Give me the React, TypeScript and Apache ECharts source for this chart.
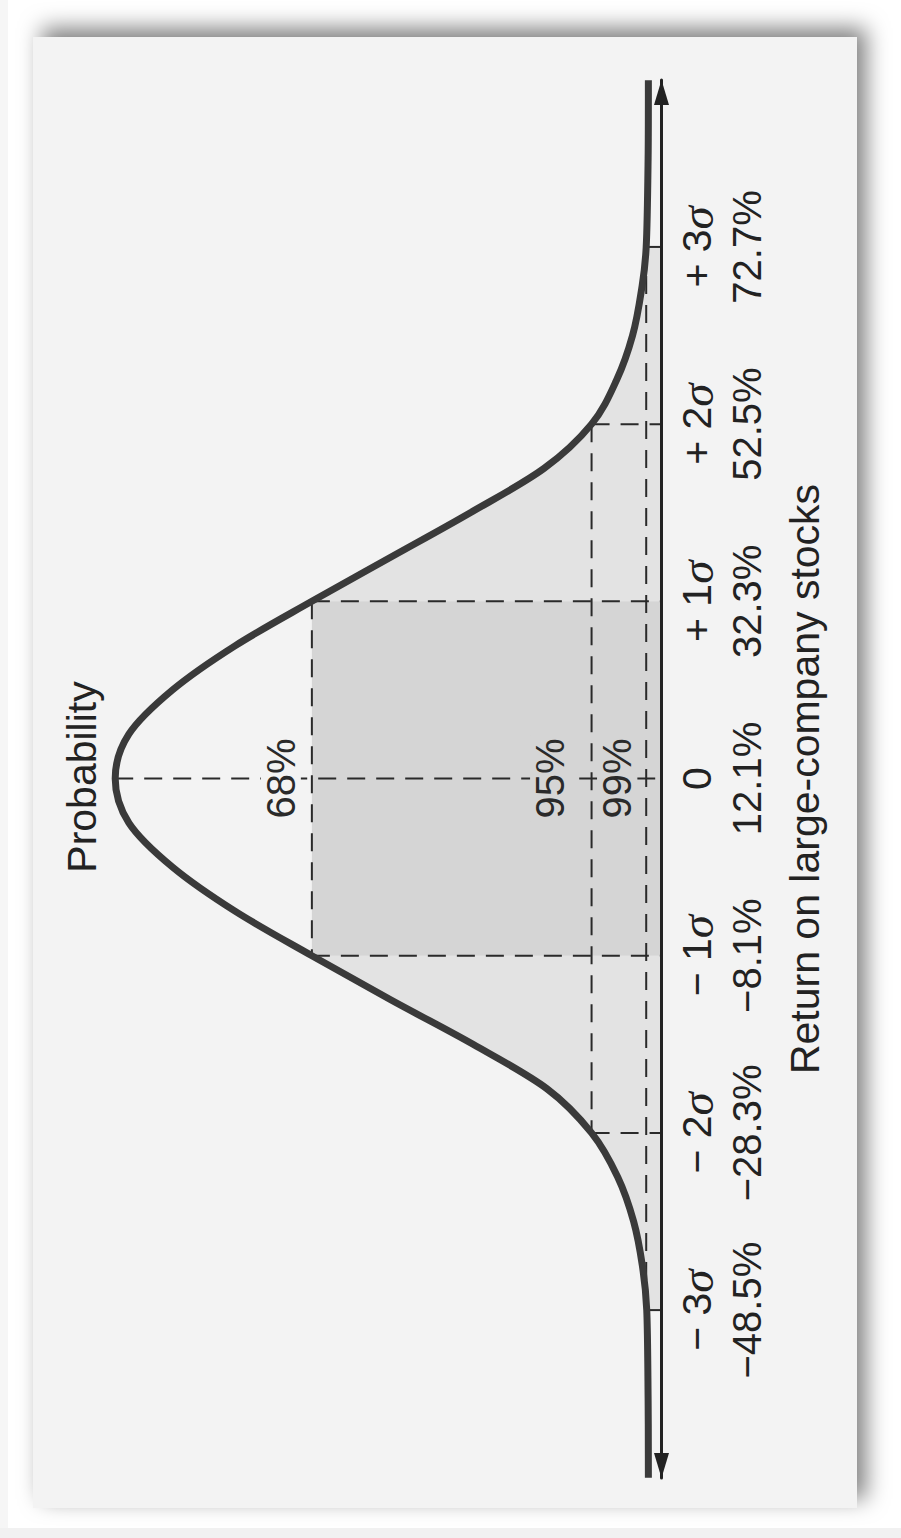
import React, { useEffect, useRef } from 'react';
import * as echarts from 'echarts';

// Tick positions on the return axis (mean 12.1%, one sigma = 20.2%)
const returnTicks = [-48.5, -28.3, -8.1, 12.1, 32.3, 52.5, 72.7];
const sigmaSigns = ['−', '−', '−', '', '+', '+', '+'];
const sigmaDigits = ['3', '2', '1', '0', '1', '2', '3'];
const returnLabels = ['−48.5%', '−28.3%', '−8.1%', '12.1%', '32.3%', '52.5%', '72.7%'];
const returnAxisRange = [-67.64, 91.73];

// Curve: return (%) and relative probability (peak = 100)
const curveReturns = [
  -67.6, -58.6, -48.5, -43.45, -38.4, -33.35, -28.3, -23.25, -18.2, -13.15, -8.1,
  -3.05, 2.0, 7.05, 12.1, 17.15, 22.2, 27.25, 32.3, 37.35, 42.4, 47.45, 52.5,
  57.55, 62.6, 67.65, 72.7, 82.8, 91.7,
];
const curveHeights = [
  2.4, 2.45, 2.7, 3.5, 5.1, 8.0, 12.8, 21, 34.5, 49.5, 64,
  78, 89.5, 97.5, 100, 97.5, 89.5, 78, 64, 49.5, 35, 21.5, 12.8,
  8.2, 5.3, 3.7, 2.8, 2.45, 2.4,
];

// Bands: +-1, 2, 3 sigma
const bandSigmas = [1, 2, 3];
const bandLabels = ['68%', '95%', '99%'];

const axisName = 'Return on large-company stocks';
const probabilityName = 'Probability';

const heightAt = (r: number) => {
  const i = curveReturns.findIndex((v) => Math.abs(v - r) < 0.01);
  return curveHeights[i];
};
const indexAt = (r: number) => curveReturns.findIndex((v) => Math.abs(v - r) < 0.01);

export default function App() {
  const ref = useRef<HTMLDivElement>(null);
  useEffect(() => {
    if (!ref.current) return;
    const chart = echarts.init(ref.current, null, { renderer: 'svg' });
    const meanReturn = returnTicks[3];
    const peak = heightAt(meanReturn);
    const DASH = [18, 11];
    const LIGHT = '#e3e3e3';
    const DARK = '#d5d5d5';
    const PANEL = '#f3f3f3';
    const INK = '#2a2a2a';

    const renderItem = (_params: any, api: any) => {
      const P = (h: number, r: number) => api.coord([h, r]);
      const pts: number[][] = curveReturns.map((r, i) => P(curveHeights[i], r));
      const n = pts.length;
      const seg = (i0: number, i1: number) => {
        let d = '';
        for (let i = i0; i < i1; i++) {
          const p0 = pts[Math.max(i - 1, 0)];
          const p1 = pts[i];
          const p2 = pts[i + 1];
          const p3 = pts[Math.min(i + 2, n - 1)];
          const c1x = p1[0] + (p2[0] - p0[0]) / 6;
          const c1y = p1[1] + (p2[1] - p0[1]) / 6;
          const c2x = p2[0] - (p3[0] - p1[0]) / 6;
          const c2y = p2[1] - (p3[1] - p1[1]) / 6;
          d += ` C ${c1x} ${c1y} ${c2x} ${c2y} ${p2[0]} ${p2[1]}`;
        }
        return d;
      };
      const children: any[] = [];
      const lo = returnTicks[0], l1 = returnTicks[2], h1 = returnTicks[4], hi = returnTicks[6];
      const piece = (a: number, b: number) => {
        const ia = indexAt(a), ib = indexAt(b);
        const A = P(0, a), B = P(0, b);
        const d = `M ${A[0]} ${A[1]} L ${pts[ia][0]} ${pts[ia][1]}${seg(ia, ib)} L ${B[0]} ${B[1]} Z`;
        return { type: 'path', shape: { pathData: d }, style: { fill: LIGHT, stroke: null } };
      };
      children.push(piece(lo, l1));
      children.push(piece(h1, hi));
      // dark 68% rectangle
      const a = P(heightAt(h1), h1);
      const b = P(0, l1);
      children.push({
        type: 'rect',
        shape: { x: a[0], y: a[1], width: b[0] - a[0], height: b[1] - a[1] },
        style: { fill: DARK },
      });
      const dash = (p1: number[], p2: number[]) => ({
        type: 'line',
        shape: { x1: p1[0], y1: p1[1], x2: p2[0], y2: p2[1] },
        style: { stroke: INK, lineWidth: 2, lineDash: DASH },
      });
      children.push(dash(P(peak, meanReturn), P(0, meanReturn)));
      bandSigmas.forEach((k) => {
        const rTop = returnTicks[3 + k];
        const rBot = returnTicks[3 - k];
        const h = heightAt(rTop);
        children.push(dash(P(h, rTop), P(0, rTop)));
        children.push(dash(P(h, rBot), P(0, rBot)));
        children.push(dash(P(h, rTop), P(h, rBot)));
      });
      const offs = [-31, -41.5, -29];
      const bgs = [PANEL, DARK, DARK];
      bandSigmas.forEach((k, j) => {
        const h = heightAt(returnTicks[3 + k]);
        const p = P(h, meanReturn);
        children.push({
          type: 'text',
          x: p[0] + offs[j],
          y: p[1],
          rotation: Math.PI / 2,
          style: {
            text: bandLabels[j],
            fontSize: 40,
            fontFamily: 'Liberation Sans',
            fill: INK,
            align: 'center',
            verticalAlign: 'middle',
            backgroundColor: bgs[j],
            padding: [0, 3],
            lineHeight: 40,
          },
        });
      });
      // the curve itself
      children.push({
        type: 'path',
        shape: { pathData: `M ${pts[0][0]} ${pts[0][1]}${seg(0, n - 1)}` },
        style: { fill: 'none', stroke: '#3a3a3a', lineWidth: 7 },
      });
      return { type: 'group', children };
    };

    const option: any = {
      animation: false,
      backgroundColor: '#ffffff',
      grid: { left: 115.2, right: 239.5, top: 80, bottom: 60, containLabel: false, outerBoundsMode: 'none' },
      xAxis: { type: 'value', inverse: true, min: 0, max: 100, show: false },
      yAxis: {
        type: 'value',
        position: 'right',
        min: returnAxisRange[0],
        max: returnAxisRange[1],
        z: 10,
        name: axisName,
        nameLocation: 'middle',
        nameRotate: 90,
        nameGap: 123,
        nameTextStyle: { fontSize: 41, fontFamily: 'Liberation Sans', color: '#222' },
        axisLine: {
          show: true,
          onZero: false,
          symbol: ['triangle', 'triangle'],
          symbolSize: [15, 25],
          symbolOffset: [12.5, -12.5],
          lineStyle: { color: '#222', width: 3 },
        },
        axisTick: { show: false },
        splitLine: { show: false },
        axisLabel: {
          customValues: returnTicks,
          rotate: 90,
          margin: 10,
          color: '#222',
          formatter: (v: number) => {
            const i = returnTicks.findIndex((t) => Math.abs(t - v) < 0.01);
            if (i < 0) return '';
            const top = sigmaSigns[i]
              ? `{n|${sigmaSigns[i]} ${sigmaDigits[i]}}{g|σ}`
              : `{n|${sigmaDigits[i]}}`;
            return `${top}\n{p|${returnLabels[i]}}`;
          },
          rich: {
            n: { fontSize: 41, fontFamily: 'Liberation Sans', lineHeight: 50, color: '#222' },
            g: { fontSize: 47, fontFamily: 'Liberation Serif', fontStyle: 'italic', lineHeight: 50, color: '#222' },
            p: { fontSize: 40, fontFamily: 'Liberation Sans', lineHeight: 50, color: '#222' },
          },
        },
      },
      graphic: [
        { type: 'rect', z: -10, shape: { x: 0, y: 1528, width: 901, height: 10 }, style: { fill: '#f1f1f1' } },
        { type: 'rect', z: -10, shape: { x: 0, y: 0, width: 8, height: 1528 }, style: { fill: '#f6f6f6' } },
        {
          type: 'rect', z: -9,
          shape: { x: 33, y: 37, width: 824, height: 1471 },
          style: { fill: PANEL, shadowBlur: 22, shadowColor: 'rgba(0,0,0,0.5)', shadowOffsetX: 9, shadowOffsetY: -9 },
        },
        {
          type: 'text', z: 10, x: 82, y: 777, rotation: Math.PI / 2,
          style: { text: probabilityName, fontSize: 41, fontFamily: 'Liberation Sans', fill: '#222', align: 'center', verticalAlign: 'middle' },
        },
      ],
      series: [
        {
          type: 'custom',
          coordinateSystem: 'cartesian2d',
          data: [[0, meanReturn]],
          clip: false,
          z: 1,
          silent: true,
          renderItem,
        },
      ],
    };
    chart.setOption(option);
    return () => chart.dispose();
  }, []);
  return <div ref={ref} style={{ position: 'fixed', left: 0, top: 0, width: 901, height: 1538 }} />;
}
